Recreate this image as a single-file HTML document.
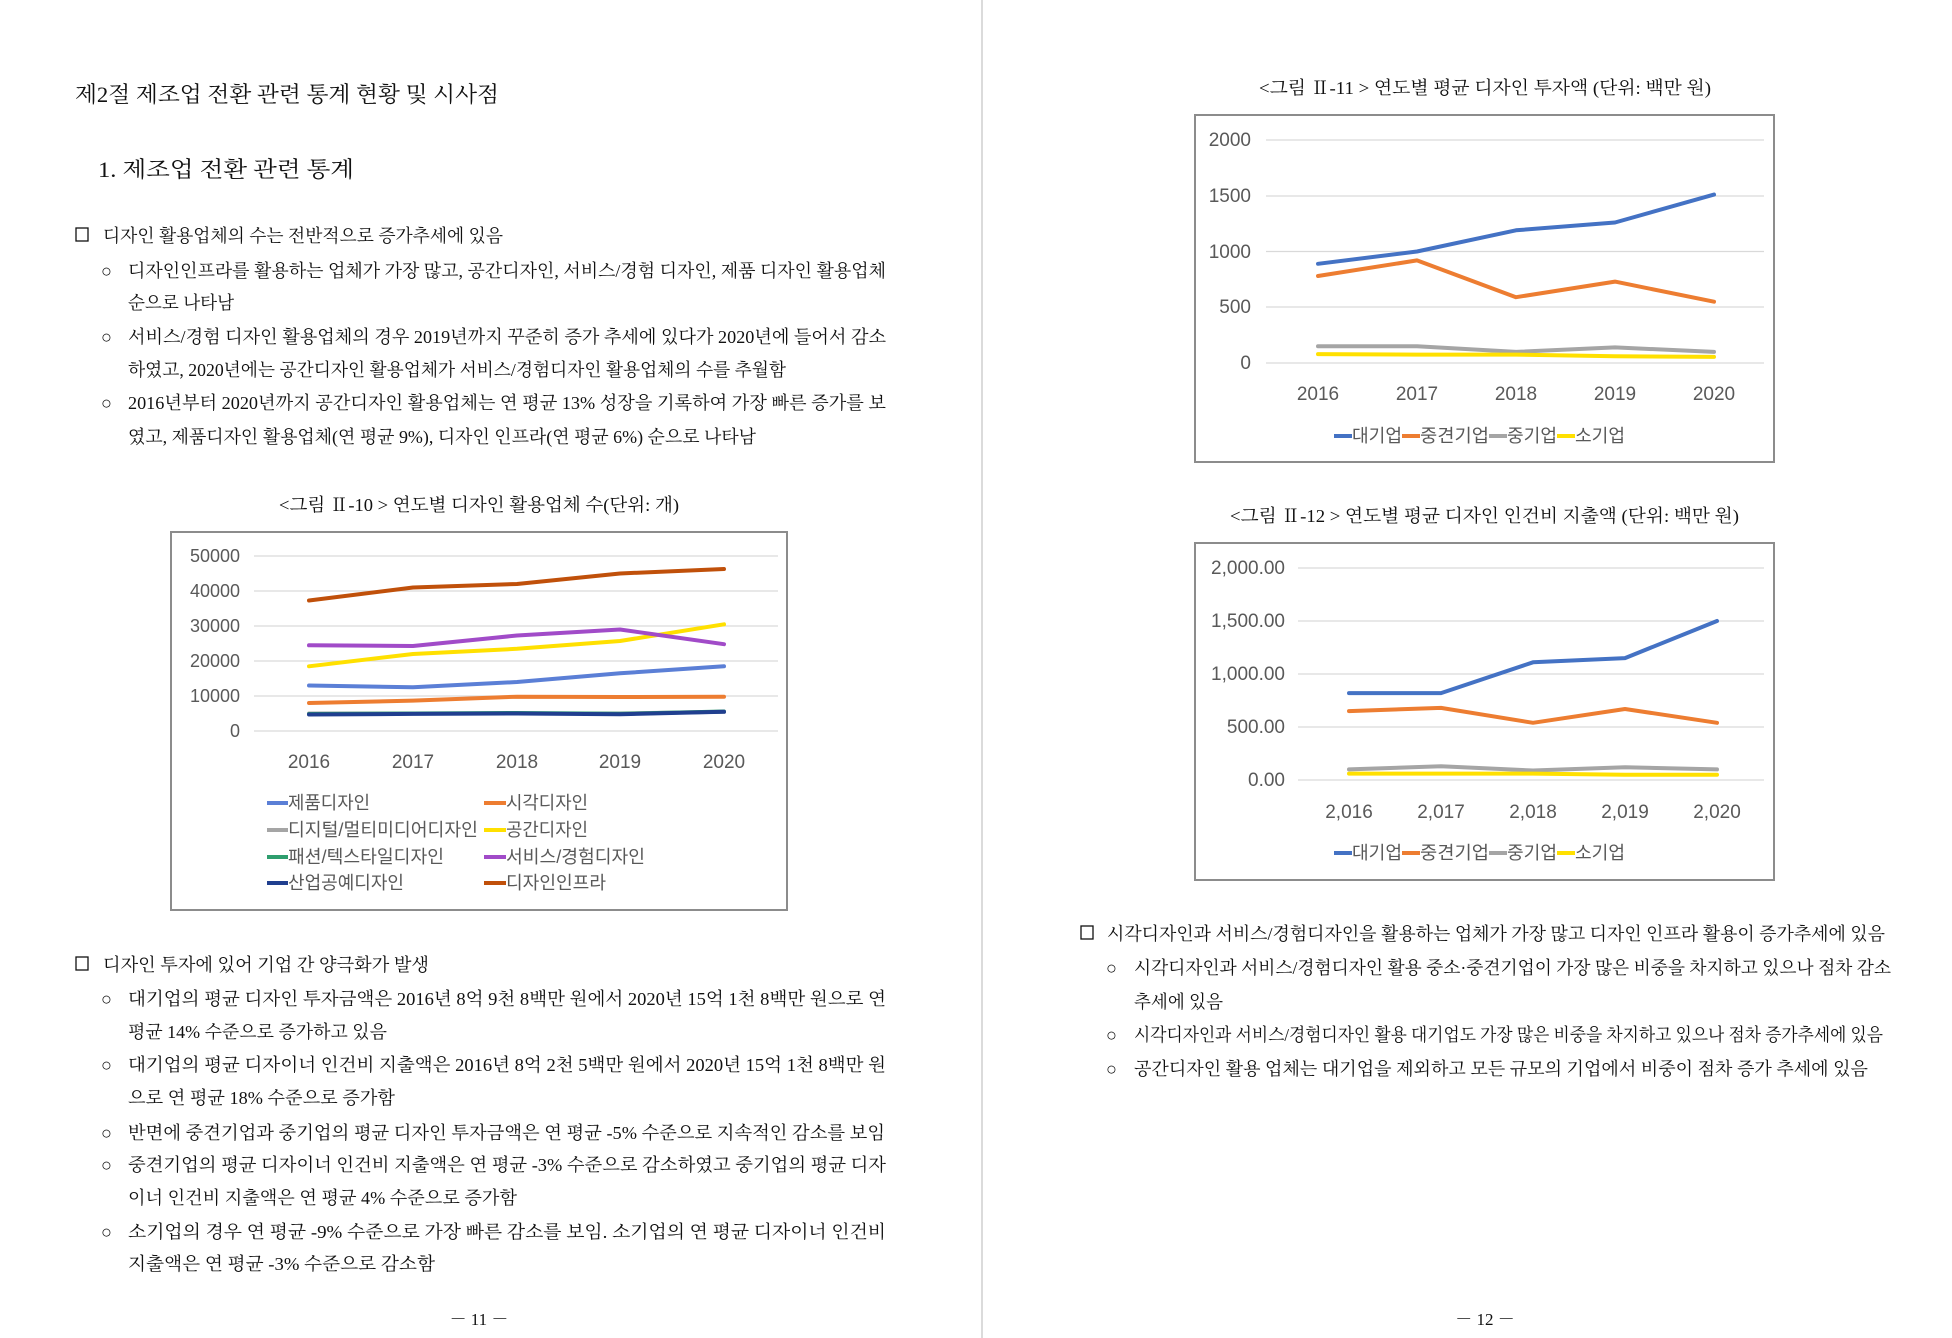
<!DOCTYPE html>
<html><head><meta charset="utf-8"><style>
html,body{margin:0;padding:0;background:#fff;}
svg{display:block;}
.b{font-family:"Liberation Serif","Noto Serif CJK KR","Noto Serif CJK SC",serif;fill:#111;}
.c{font-family:"Liberation Sans","Noto Sans CJK KR",sans-serif;fill:#595959;}
.g{stroke:#d9d9d9;stroke-width:1.2;}
.s{fill:none;stroke-width:4;stroke-linejoin:round;stroke-linecap:round;}
</style></head><body>
<svg width="1952" height="1338" viewBox="0 0 1952 1338" xmlns="http://www.w3.org/2000/svg">
<rect width="1952" height="1338" fill="#fff"/>
<line x1="982" y1="0" x2="982" y2="1338" stroke="#cfcfcf" stroke-width="1.5"/>

<!-- LEFT PAGE -->
<g class="b">
<text x="75" y="102" font-size="22" textLength="424" lengthAdjust="spacingAndGlyphs">제2절 제조업 전환 관련 통계 현황 및 시사점</text>
<text x="98" y="177" font-size="22" textLength="256" lengthAdjust="spacingAndGlyphs">1. 제조업 전환 관련 통계</text>
<g transform="translate(0,-3)">
<rect x="76" y="231" width="12" height="13" fill="none" stroke="#111" stroke-width="1.3"/>
<text x="103" y="245" font-size="18" textLength="400" lengthAdjust="spacingAndGlyphs">디자인 활용업체의 수는 전반적으로 증가추세에 있음</text>
<g font-size="18">
<text x="101" y="280">○</text><text x="128" y="280" textLength="758" lengthAdjust="spacingAndGlyphs">디자인인프라를 활용하는 업체가 가장 많고, 공간디자인, 서비스/경험 디자인, 제품 디자인 활용업체</text>
<text x="128" y="312" textLength="106" lengthAdjust="spacingAndGlyphs">순으로 나타남</text>
<text x="101" y="346">○</text><text x="128" y="346" textLength="758" lengthAdjust="spacingAndGlyphs">서비스/경험 디자인 활용업체의 경우 2019년까지 꾸준히 증가 추세에 있다가 2020년에 들어서 감소</text>
<text x="128" y="379" textLength="658" lengthAdjust="spacingAndGlyphs">하였고, 2020년에는 공간디자인 활용업체가 서비스/경험디자인 활용업체의 수를 추월함</text>
<text x="101" y="412">○</text><text x="128" y="412" textLength="758" lengthAdjust="spacingAndGlyphs">2016년부터 2020년까지 공간디자인 활용업체는 연 평균 13% 성장을 기록하여 가장 빠른 증가를 보</text>
<text x="128" y="446" textLength="628" lengthAdjust="spacingAndGlyphs">였고, 제품디자인 활용업체(연 평균 9%), 디자인 인프라(연 평균 6%) 순으로 나타남</text>
</g>
<text x="279" y="514" font-size="18" textLength="400" lengthAdjust="spacingAndGlyphs">&lt;그림 Ⅱ-10 &gt; 연도별 디자인 활용업체 수(단위: 개)</text>

<rect x="76" y="960" width="12" height="13" fill="none" stroke="#111" stroke-width="1.3"/>
<text x="103" y="974" font-size="18" textLength="326" lengthAdjust="spacingAndGlyphs">디자인 투자에 있어 기업 간 양극화가 발생</text>
<g font-size="18">
<text x="101" y="1008">○</text><text x="128" y="1008" textLength="758" lengthAdjust="spacingAndGlyphs">대기업의 평균 디자인 투자금액은 2016년 8억 9천 8백만 원에서 2020년 15억 1천 8백만 원으로 연</text>
<text x="128" y="1041" textLength="259" lengthAdjust="spacingAndGlyphs">평균 14% 수준으로 증가하고 있음</text>
<text x="101" y="1074">○</text><text x="128" y="1074" textLength="758" lengthAdjust="spacingAndGlyphs">대기업의 평균 디자이너 인건비 지출액은 2016년 8억 2천 5백만 원에서 2020년 15억 1천 8백만 원</text>
<text x="128" y="1107" textLength="267" lengthAdjust="spacingAndGlyphs">으로 연 평균 18% 수준으로 증가함</text>
<text x="101" y="1142">○</text><text x="128" y="1142" textLength="757" lengthAdjust="spacingAndGlyphs">반면에 중견기업과 중기업의 평균 디자인 투자금액은 연 평균 -5% 수준으로 지속적인 감소를 보임</text>
<text x="101" y="1174">○</text><text x="128" y="1174" textLength="758" lengthAdjust="spacingAndGlyphs">중견기업의 평균 디자이너 인건비 지출액은 연 평균 -3% 수준으로 감소하였고 중기업의 평균 디자</text>
<text x="128" y="1207" textLength="389" lengthAdjust="spacingAndGlyphs">이너 인건비 지출액은 연 평균 4% 수준으로 증가함</text>
<text x="101" y="1241">○</text><text x="128" y="1241" textLength="758" lengthAdjust="spacingAndGlyphs">소기업의 경우 연 평균 -9% 수준으로 가장 빠른 감소를 보임. 소기업의 연 평균 디자이너 인건비</text>
<text x="128" y="1273" textLength="307" lengthAdjust="spacingAndGlyphs">지출액은 연 평균 -3% 수준으로 감소함</text>
</g>
</g>
<text x="479" y="1325" font-size="17" text-anchor="middle">－ 11 －</text>

<!-- RIGHT PAGE text -->
<g transform="translate(0,-3)">
<text x="1259" y="97" font-size="18" textLength="452" lengthAdjust="spacingAndGlyphs">&lt;그림 Ⅱ-11 &gt; 연도별 평균 디자인 투자액 (단위: 백만 원)</text>
<text x="1230" y="525" font-size="18" textLength="509" lengthAdjust="spacingAndGlyphs">&lt;그림 Ⅱ-12 &gt; 연도별 평균 디자인 인건비 지출액 (단위: 백만 원)</text>
<rect x="1081" y="929" width="12" height="13" fill="none" stroke="#111" stroke-width="1.3"/>
<text x="1107" y="943" font-size="18" textLength="778" lengthAdjust="spacingAndGlyphs">시각디자인과 서비스/경험디자인을 활용하는 업체가 가장 많고 디자인 인프라 활용이 증가추세에 있음</text>
<g font-size="18">
<text x="1106" y="977">○</text><text x="1134" y="977" textLength="757" lengthAdjust="spacingAndGlyphs">시각디자인과 서비스/경험디자인 활용 중소·중견기업이 가장 많은 비중을 차지하고 있으나 점차 감소</text>
<text x="1134" y="1011" textLength="89" lengthAdjust="spacingAndGlyphs">추세에 있음</text>
<text x="1106" y="1044">○</text><text x="1134" y="1044" textLength="749" lengthAdjust="spacingAndGlyphs">시각디자인과 서비스/경험디자인 활용 대기업도 가장 많은 비중을 차지하고 있으나 점차 증가추세에 있음</text>
<text x="1106" y="1078">○</text><text x="1134" y="1078" textLength="734" lengthAdjust="spacingAndGlyphs">공간디자인 활용 업체는 대기업을 제외하고 모든 규모의 기업에서 비중이 점차 증가 추세에 있음</text>
</g>
</g>
<text x="1485" y="1325" font-size="17" text-anchor="middle">－ 12 －</text>
</g>

<!-- CHART 1 -->
<rect x="171" y="532" width="616" height="378" fill="#fff" stroke="#8c8c8c" stroke-width="2"/>
<g class="g">
<line x1="254" y1="731" x2="778" y2="731"/><line x1="254" y1="696" x2="778" y2="696"/>
<line x1="254" y1="661" x2="778" y2="661"/><line x1="254" y1="626" x2="778" y2="626"/>
<line x1="254" y1="591" x2="778" y2="591"/><line x1="254" y1="556" x2="778" y2="556"/>
</g>
<g class="c" font-size="18" text-anchor="end">
<text x="240" y="737">0</text><text x="240" y="702">10000</text><text x="240" y="667">20000</text>
<text x="240" y="632">30000</text><text x="240" y="597">40000</text><text x="240" y="562">50000</text>
</g>
<g class="c" font-size="19" text-anchor="middle">
<text x="309" y="768">2016</text><text x="413" y="768">2017</text><text x="517" y="768">2018</text><text x="620" y="768">2019</text><text x="724" y="768">2020</text>
</g>
<polyline class="s" stroke="#A5A5A5" points="309,713.5 413,713.5 517,713.5 620,713.5 724,711.8"/>
<polyline class="s" stroke="#2E9E6E" points="309,714 413,713.5 517,713 620,713.8 724,711.5"/>
<polyline class="s" stroke="#203F8F" points="309,714.5 413,713.9 517,713.5 620,714.2 724,711.8"/>
<polyline class="s" stroke="#ED7D31" points="309,703 413,700.6 517,696.7 620,697 724,696.7"/>
<polyline class="s" stroke="#5B7FD6" points="309,685.5 413,687.3 517,682 620,673.3 724,666.3"/>
<polyline class="s" stroke="#FFE000" points="309,666.3 413,654 517,648.8 620,641 724,624.3"/>
<polyline class="s" stroke="#A14BC8" points="309,645.3 413,646 517,635.5 620,629.5 724,644.2"/>
<polyline class="s" stroke="#C0500A" points="309,600.5 413,587.5 517,584 620,573.5 724,569"/>
<g stroke-width="4">
<line x1="267" y1="803" x2="288" y2="803" stroke="#5B7FD6"/><line x1="484" y1="803" x2="506" y2="803" stroke="#ED7D31"/>
<line x1="267" y1="830" x2="288" y2="830" stroke="#A5A5A5"/><line x1="484" y1="830" x2="506" y2="830" stroke="#FFE000"/>
<line x1="267" y1="857" x2="288" y2="857" stroke="#2E9E6E"/><line x1="484" y1="857" x2="506" y2="857" stroke="#A14BC8"/>
<line x1="267" y1="883" x2="288" y2="883" stroke="#203F8F"/><line x1="484" y1="883" x2="506" y2="883" stroke="#C0500A"/>
</g>
<g class="c" font-size="18">
<text x="288" y="809" textLength="82" lengthAdjust="spacingAndGlyphs">제품디자인</text>
<text x="506" y="809" textLength="82" lengthAdjust="spacingAndGlyphs">시각디자인</text>
<text x="288" y="836" textLength="190" lengthAdjust="spacingAndGlyphs">디지털/멀티미디어디자인</text>
<text x="506" y="836" textLength="82" lengthAdjust="spacingAndGlyphs">공간디자인</text>
<text x="288" y="863" textLength="156" lengthAdjust="spacingAndGlyphs">패션/텍스타일디자인</text>
<text x="506" y="863" textLength="139" lengthAdjust="spacingAndGlyphs">서비스/경험디자인</text>
<text x="288" y="889" textLength="116" lengthAdjust="spacingAndGlyphs">산업공예디자인</text>
<text x="506" y="889" textLength="100" lengthAdjust="spacingAndGlyphs">디자인인프라</text>
</g>

<!-- CHART 2 -->
<rect x="1195" y="115" width="579" height="347" fill="#fff" stroke="#8c8c8c" stroke-width="2"/>
<g class="g">
<line x1="1266" y1="363" x2="1764" y2="363"/><line x1="1266" y1="307" x2="1764" y2="307"/>
<line x1="1266" y1="251.5" x2="1764" y2="251.5"/><line x1="1266" y1="196" x2="1764" y2="196"/>
<line x1="1266" y1="140" x2="1764" y2="140"/>
</g>
<g class="c" font-size="19" text-anchor="end">
<text x="1251" y="369">0</text><text x="1251" y="313">500</text><text x="1251" y="258">1000</text>
<text x="1251" y="202">1500</text><text x="1251" y="146">2000</text>
</g>
<g class="c" font-size="19" text-anchor="middle">
<text x="1318" y="400">2016</text><text x="1417" y="400">2017</text><text x="1516" y="400">2018</text><text x="1615" y="400">2019</text><text x="1714" y="400">2020</text>
</g>
<polyline class="s" stroke="#A5A5A5" points="1318,346.3 1417,346.3 1516,351.9 1615,347.4 1714,351.9"/>
<polyline class="s" stroke="#FFE000" points="1318,354.1 1417,354.6 1516,354.6 1615,356.3 1714,356.9"/>
<polyline class="s" stroke="#ED7D31" points="1318,276 1417,260.4 1516,297.2 1615,281.6 1714,301.7"/>
<polyline class="s" stroke="#4472C4" points="1318,263.8 1417,251.5 1516,230.3 1615,222.5 1714,194.6"/>
<g stroke-width="4">
<line x1="1334" y1="436" x2="1352" y2="436" stroke="#4472C4"/>
<line x1="1402" y1="436" x2="1420" y2="436" stroke="#ED7D31"/>
<line x1="1489" y1="436" x2="1507" y2="436" stroke="#A5A5A5"/>
<line x1="1557" y1="436" x2="1575" y2="436" stroke="#FFE000"/>
</g>
<g class="c" font-size="18">
<text x="1352" y="442" textLength="50" lengthAdjust="spacingAndGlyphs">대기업</text>
<text x="1420" y="442" textLength="69" lengthAdjust="spacingAndGlyphs">중견기업</text>
<text x="1507" y="442" textLength="50" lengthAdjust="spacingAndGlyphs">중기업</text>
<text x="1575" y="442" textLength="50" lengthAdjust="spacingAndGlyphs">소기업</text>
</g>

<!-- CHART 3 -->
<rect x="1195" y="543" width="579" height="337" fill="#fff" stroke="#8c8c8c" stroke-width="2"/>
<g class="g">
<line x1="1298" y1="780" x2="1764" y2="780"/><line x1="1298" y1="727" x2="1764" y2="727"/>
<line x1="1298" y1="674" x2="1764" y2="674"/><line x1="1298" y1="621" x2="1764" y2="621"/>
<line x1="1298" y1="568" x2="1764" y2="568"/>
</g>
<g class="c" font-size="19" text-anchor="end">
<text x="1285" y="786">0.00</text><text x="1285" y="733">500.00</text><text x="1285" y="680">1,000.00</text>
<text x="1285" y="627">1,500.00</text><text x="1285" y="574">2,000.00</text>
</g>
<g class="c" font-size="19" text-anchor="middle">
<text x="1349" y="818">2,016</text><text x="1441" y="818">2,017</text><text x="1533" y="818">2,018</text><text x="1625" y="818">2,019</text><text x="1717" y="818">2,020</text>
</g>
<polyline class="s" stroke="#A5A5A5" points="1349,769.4 1441,766.2 1533,770.5 1625,767.3 1717,769.4"/>
<polyline class="s" stroke="#FFE000" points="1349,773.6 1441,773.6 1533,773.6 1625,774.7 1717,774.7"/>
<polyline class="s" stroke="#ED7D31" points="1349,711.1 1441,707.9 1533,722.8 1625,709 1717,722.8"/>
<polyline class="s" stroke="#4472C4" points="1349,693.1 1441,693.1 1533,662.3 1625,658.1 1717,621"/>
<g stroke-width="4">
<line x1="1334" y1="853" x2="1352" y2="853" stroke="#4472C4"/>
<line x1="1402" y1="853" x2="1420" y2="853" stroke="#ED7D31"/>
<line x1="1489" y1="853" x2="1507" y2="853" stroke="#A5A5A5"/>
<line x1="1557" y1="853" x2="1575" y2="853" stroke="#FFE000"/>
</g>
<g class="c" font-size="18">
<text x="1352" y="859" textLength="50" lengthAdjust="spacingAndGlyphs">대기업</text>
<text x="1420" y="859" textLength="69" lengthAdjust="spacingAndGlyphs">중견기업</text>
<text x="1507" y="859" textLength="50" lengthAdjust="spacingAndGlyphs">중기업</text>
<text x="1575" y="859" textLength="50" lengthAdjust="spacingAndGlyphs">소기업</text>
</g>
</svg>
</body></html>
